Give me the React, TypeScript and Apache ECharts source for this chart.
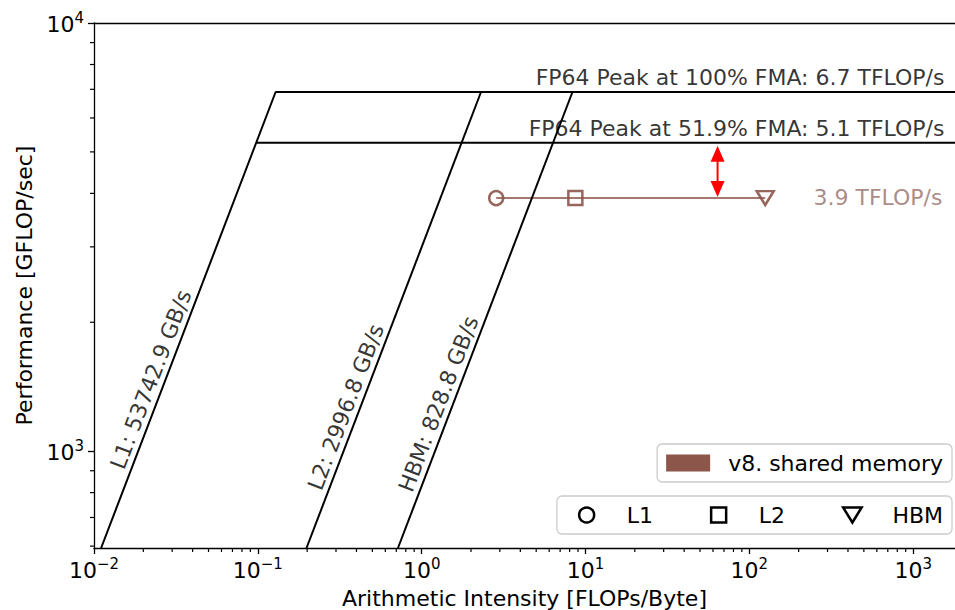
import React, { useEffect, useRef } from "react";
import * as echarts from "echarts";

const FONT = "DejaVu Sans";

// axis extents
const xExtent = [0.01, 1800];
const yExtent = [594, 10000];

// memory roofs
const memLevels = ["L1", "L2", "HBM"];
const memBandwidth = [53742.9, 2996.8, 828.8]; // GB/s
const memRoofLabels = ["L1: 53742.9 GB/s", "L2: 2996.8 GB/s", "HBM: 828.8 GB/s"];
const memLabelPerf = [1430, 1233, 1254]; // GFLOP/s where each roof label sits

// compute ceilings (as drawn)
const peakPerf = [6900, 5250]; // GFLOP/s
const peakLabels = [
  "FP64 Peak at 100% FMA: 6.7 TFLOP/s",
  "FP64 Peak at 51.9% FMA: 5.1 TFLOP/s",
];

// kernel
const kernelName = "v8. shared memory";
const kernelAI = [2.85, 8.67, 125];
const kernelPerf = [3900, 3900, 3900];
const kernelLabel = "3.9 TFLOP/s";
const arrowAI = 64;

// tick helpers
const minorMantissas = [2, 3, 4, 5, 6, 7, 8, 9];
const xDecades = [0.01, 0.1, 1, 10, 100, 1000];
const yDecades = [100, 1000];

const xMinor = xDecades
  .flatMap((d) => minorMantissas.map((m) => m * d))
  .filter((v) => v > xExtent[0] && v < xExtent[1]);
const yMinor = yDecades
  .flatMap((d) => minorMantissas.map((m) => m * d))
  .filter((v) => v > yExtent[0] && v < yExtent[1]);

function powLabel(v: number): string {
  const l = Math.log10(v);
  const e = Math.round(l);
  if (Math.abs(l - e) > 1e-6) return "";
  const exp = e < 0 ? "\u2212" + String(-e) : String(e);
  return "{b|10}{s|" + exp + "}";
}

const tickRich = {
  b: { fontFamily: "DejaVu Sans", fontSize: 22, lineHeight: 25, verticalAlign: "bottom", color: "#000" },
  s: { fontFamily: "DejaVu Sans", fontSize: 15, lineHeight: 15, verticalAlign: "top", color: "#000" },
};

const BROWN = "#8c564b";
const squarePath = "path://M0,0L12,0L12,12L0,12Z";
const triPath = "path://M0,0L16,0L8,13Z";
const markerSymbols = ["circle", "rect", triPath];
const markerSizes: any[] = [14, 14, [17, 14]];

function buildOption(): any {
  const axisText = { fontFamily: FONT, fontSize: 22, color: "#000" };
  const series: any[] = [];

  // kernel line
  series.push({
    type: "line",
    name: kernelName,
    data: kernelAI.map((a, i) => [a, kernelPerf[i]]),
    symbol: "none",
    lineStyle: { color: BROWN, width: 2, opacity: 0.8 },
    itemStyle: { color: BROWN },
    silent: true,
    z: 2,
  });

  // kernel markers per memory level
  memLevels.forEach((lvl, i) => {
    series.push({
      type: "scatter",
      name: lvl,
      data: [[kernelAI[i], kernelPerf[i]]],
      symbol: markerSymbols[i],
      symbolSize: markerSizes[i],
      symbolKeepAspect: false,
      itemStyle: {
        color: "rgba(255,255,255,0)",
        borderColor: BROWN,
        borderWidth: 2.5,
        opacity: 0.9,
      },
      silent: true,
      z: 3,
    });
  });

  // roofs
  const peak = peakPerf[0];
  memBandwidth.forEach((bw, i) => {
    const pts: number[][] = [
      [yExtent[0] / bw, yExtent[0]],
      [peak / bw, peak],
    ];
    if (i === 0) pts.push([xExtent[1], peak]);
    series.push({
      type: "line",
      name: memLevels[i] + " roof",
      data: pts,
      symbol: "none",
      lineStyle: { color: "#000", width: 2 },
      silent: true,
      clip: true,
      z: 4,
    });
  });
  // 51.9% FMA ceiling
  series.push({
    type: "line",
    name: "FMA ceiling",
    data: [
      [peakPerf[1] / memBandwidth[0], peakPerf[1]],
      [xExtent[1], peakPerf[1]],
    ],
    symbol: "none",
    lineStyle: { color: "#000", width: 2 },
    silent: true,
    z: 4,
  });

  // roof labels
  series.push({
    type: "scatter",
    name: "roof labels",
    symbolSize: 1,
    itemStyle: { color: "rgba(0,0,0,0)" },
    clip: false,
    silent: true,
    z: 5,
    data: memBandwidth.map((bw, i) => ({
      name: memRoofLabels[i],
      value: [memLabelPerf[i] / bw, memLabelPerf[i]],
    })),
    label: {
      show: true,
      formatter: "{b}",
      position: [0, 0],
      align: "center",
      verticalAlign: "middle",
      rotate: 69,
      offset: [0, -13],
      fontFamily: FONT,
      fontSize: 22,
      color: "#000",
    },
  });

  // ceiling and kernel labels at right edge
  series.push({
    type: "scatter",
    name: "ceiling labels",
    symbolSize: 1,
    itemStyle: { color: "rgba(0,0,0,0)" },
    clip: false,
    silent: true,
    z: 5,
    data: [
      {
        name: peakLabels[0],
        value: [xExtent[1], peakPerf[0]],
        label: { verticalAlign: "bottom", offset: [-10, -3] },
      },
      {
        name: peakLabels[1],
        value: [xExtent[1], peakPerf[1]],
        label: { verticalAlign: "bottom", offset: [-10, -3] },
      },
      {
        name: kernelLabel,
        value: [xExtent[1], kernelPerf[2]],
        label: {
          verticalAlign: "middle",
          offset: [-12, 0],
          color: "rgba(135,88,78,0.88)",
        },
      },
    ],
    label: {
      show: true,
      formatter: "{b}",
      position: [0, 0],
      align: "right",
      fontFamily: FONT,
      fontSize: 22,
      color: "#000",
    },
  });

  // double arrow between FMA ceiling and kernel performance
  series.push({
    type: "custom",
    name: "gap arrow",
    coordinateSystem: "cartesian2d",
    silent: true,
    clip: false,
    z: 6,
    encode: { x: 0, y: [1, 2] },
    data: [[arrowAI, peakPerf[1], kernelPerf[2]]],
    renderItem: (params: any, api: any) => {
      const top = api.coord([api.value(0), api.value(1)]);
      const bot = api.coord([api.value(0), api.value(2)]);
      const hl = 16;
      const hw = 7;
      const t = top[1] + 3;
      const b = bot[1] - 1;
      const x = top[0];
      return {
        type: "group",
        children: [
          {
            type: "line",
            shape: { x1: x, y1: t + hl - 2, x2: x, y2: b - hl + 2 },
            style: { stroke: "#ff0000", lineWidth: 2 },
          },
          {
            type: "polygon",
            shape: { points: [[x, t], [x - hw, t + hl], [x + hw, t + hl]] },
            style: { fill: "#ff0000" },
          },
          {
            type: "polygon",
            shape: { points: [[x, b], [x - hw, b - hl], [x + hw, b - hl]] },
            style: { fill: "#ff0000" },
          },
        ],
      };
    },
  });

  // minor ticks
  series.push({
    type: "custom",
    name: "x minor ticks",
    coordinateSystem: "cartesian2d",
    silent: true,
    clip: false,
    z: 1,
    data: xMinor.map((v) => [v, yExtent[0]]),
    renderItem: (params: any, api: any) => {
      const p = api.coord([api.value(0), api.value(1)]);
      return {
        type: "line",
        shape: { x1: p[0], y1: p[1], x2: p[0], y2: p[1] + 4 },
        style: { stroke: "#000", lineWidth: 1.2 },
      };
    },
  });
  series.push({
    type: "custom",
    name: "y minor ticks",
    coordinateSystem: "cartesian2d",
    silent: true,
    clip: false,
    z: 1,
    data: yMinor.map((v) => [xExtent[0], v]),
    renderItem: (params: any, api: any) => {
      const p = api.coord([api.value(0), api.value(1)]);
      return {
        type: "line",
        shape: { x1: p[0] - 4, y1: p[1], x2: p[0], y2: p[1] },
        style: { stroke: "#000", lineWidth: 1.2 },
      };
    },
  });

  const legendCommon = {
    orient: "horizontal",
    right: 3,
    itemWidth: 44,
    backgroundColor: "rgba(255,255,255,0.8)",
    borderColor: "#cccccc",
    borderWidth: 1.3,
    borderRadius: 5,
    selectedMode: false,
    textStyle: {
      fontFamily: FONT,
      fontSize: 22,
      color: "#000",
      padding: [0, 0, 0, 13],
    },
  };

  return {
    animation: false,
    backgroundColor: "#fff",
    textStyle: { fontFamily: FONT },
    grid: {
      left: 94,
      right: 0,
      top: 23,
      bottom: 62,
      containLabel: false,
      outerBoundsMode: "none",
    },
    xAxis: [
      {
        type: "log",
        logBase: 10,
        min: xExtent[0],
        max: xExtent[1],
        position: "bottom",
        name: "Arithmetic Intensity [FLOPs/Byte]",
        nameLocation: "middle",
        nameGap: 39,
        nameTextStyle: axisText,
        axisLine: { show: true, onZero: false, lineStyle: { color: "#000", width: 1.3 } },
        axisTick: { show: true, length: 6, lineStyle: { color: "#000", width: 1.3 } },
        axisLabel: {
          ...axisText,
          margin: 8,
          formatter: (v: number) => powLabel(v),
          rich: tickRich,
          showMaxLabel: false,
        },
        splitLine: { show: false },
        minorTick: { show: false },
      },
      {
        type: "log",
        logBase: 10,
        min: xExtent[0],
        max: xExtent[1],
        position: "top",
        axisLine: { show: true, onZero: false, lineStyle: { color: "#000", width: 1.3 } },
        axisTick: { show: false },
        axisLabel: { show: false },
        splitLine: { show: false },
      },
    ],
    yAxis: [
      {
        type: "log",
        logBase: 10,
        min: yExtent[0],
        max: yExtent[1],
        position: "left",
        name: "Performance [GFLOP/sec]",
        nameLocation: "middle",
        nameGap: 56,
        nameRotate: 90,
        nameTextStyle: axisText,
        axisLine: { show: true, onZero: false, lineStyle: { color: "#000", width: 1.3 } },
        axisTick: { show: true, length: 6, lineStyle: { color: "#000", width: 1.3 } },
        axisLabel: {
          ...axisText,
          margin: 10,
          formatter: (v: number) => powLabel(v),
          rich: tickRich,
          showMinLabel: false,
        },
        splitLine: { show: false },
      },
    ],
    legend: [
      {
        ...legendCommon,
        top: 444,
        itemHeight: 17,
        itemGap: 44,
        padding: [8, 9, 8, 9],
        data: [
          {
            name: kernelName,
            icon: "rect",
            itemStyle: { color: BROWN, opacity: 1, borderWidth: 0 },
          },
        ],
      },
      {
        ...legendCommon,
        top: 496,
        itemHeight: 15,
        itemGap: 57,
        padding: [8, 9, 8, 21],
        data: [
          {
            name: memLevels[0],
            icon: "circle",
            itemStyle: { color: "rgba(255,255,255,0)", borderColor: "#000", borderWidth: 2.5, opacity: 1 },
          },
          {
            name: memLevels[1],
            icon: squarePath,
            itemStyle: { color: "rgba(255,255,255,0)", borderColor: "#000", borderWidth: 2.5, opacity: 1 },
          },
          {
            name: memLevels[2],
            icon: triPath,
            itemStyle: { color: "rgba(255,255,255,0)", borderColor: "#000", borderWidth: 2.5, opacity: 1 },
          },
        ],
      },
    ],
    series,
  };
}

export default function App() {
  const ref = useRef<HTMLDivElement>(null);
  useEffect(() => {
    document.body.style.margin = "0";
    if (!ref.current) return;
    const chart = echarts.init(ref.current, null, { renderer: "svg" });
    chart.setOption(buildOption());
    return () => chart.dispose();
  }, []);
  return <div ref={ref} style={{ width: 955, height: 610 }} />;
}
